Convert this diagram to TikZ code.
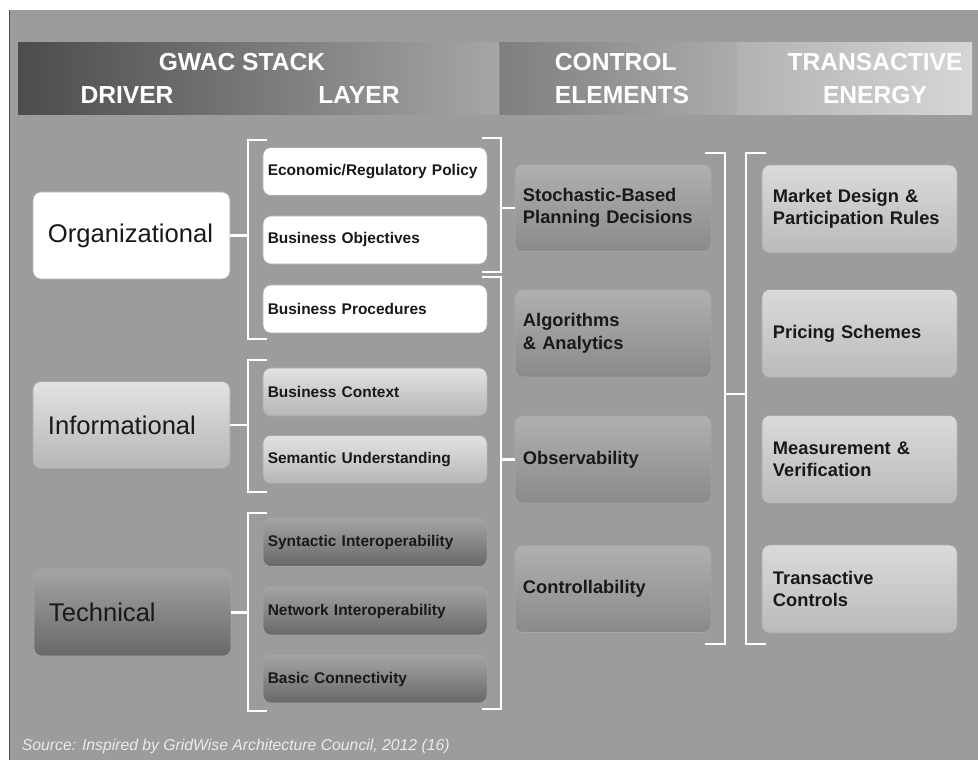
\documentclass[tikz,border=0pt]{standalone}
\usepackage{fontspec}
\setmainfont{Liberation Sans}
\definecolor{panelgray}{HTML}{9C9C9C}
\definecolor{hdrA}{HTML}{4C4C4C}
\definecolor{hdrB}{HTML}{A6A6A6}
\definecolor{hdrC}{HTML}{7E7E7E}
\definecolor{hdrD}{HTML}{ACACAC}
\definecolor{hdrE}{HTML}{B2B2B2}
\definecolor{hdrF}{HTML}{D6D6D6}
\definecolor{infTop}{HTML}{E2E2E2}
\definecolor{infBot}{HTML}{B6B6B6}
\definecolor{tecTop}{HTML}{A4A4A4}
\definecolor{tecBot}{HTML}{686868}
\definecolor{ctlTop}{HTML}{B0B0B0}
\definecolor{ctlBot}{HTML}{8A8A8A}
\definecolor{teTop}{HTML}{DADADA}
\definecolor{teBot}{HTML}{BABABA}
\begin{document}
\begin{tikzpicture}[x=0.025cm, y=-0.025cm,
    box/.style = {rounded corners=0.2cm, draw=black!35, line width=0.4pt, align=left, inner ysep=0pt, text=black!90},
    drvbox/.style = {box, minimum height=2.175cm, text width=4.175cm, inner xsep=0.375cm, font=\fontsize{18.2}{21}\selectfont},
    laybox/.style = {box, minimum height=1.2cm, text width=5.36cm, inner xsep=0.12cm, font=\bfseries\fontsize{11}{13}\selectfont},
    ctlbox/.style = {box, minimum height=2.175cm, text width=4.5cm, inner xsep=0.2cm, font=\bfseries\fontsize{13}{16}\selectfont, top color=ctlTop, bottom color=ctlBot},
    tebox/.style = {box, minimum height=2.2cm, text width=4.325cm, inner xsep=0.275cm, font=\bfseries\fontsize{13}{16}\selectfont, top color=teTop, bottom color=teBot},
    bracket/.style = {white, line width=1.6pt},
    hdr/.style = {white, font=\bfseries\fontsize{17.5}{23.4}\selectfont}]

    % background and header band
    \useasboundingbox (0,0) rectangle (978,760);
    \fill[white] (0,0) rectangle (978,760);
    \fill[panelgray] (9,10) rectangle (978,760);
    \draw[black!70, line width=0.6pt] (9,10) -- (9,760);
    \shade[left color=hdrA, right color=hdrB] (18,43) rectangle (499,115);
    \shade[left color=hdrC, right color=hdrD] (499,43) rectangle (737,115);
    \shade[left color=hdrE, right color=hdrF] (737,43) rectangle (972,115);
    \draw[black!45, line width=0.4pt] (499,43) -- (499,115);
    \draw[black!30, line width=0.4pt] (737,43) -- (737,115);

    \node[hdr] (gwac) at (242,62) {GWAC STACK};
    \node[hdr] (drv) at (127,95) {DRIVER};
    \node[hdr] (lay) at (359,95) {LAYER};
    \node[hdr, align=left, anchor=west] (ctlhd) at (550,78.5) {CONTROL\\ELEMENTS};
    \node[hdr, align=center] (tehd) at (875,78.5) {TRANSACTIVE\\ENERGY};

    % driver column
    \node[drvbox, fill=white] (org) at (131.5,235.5) {Organizational};
    \node[drvbox, top color=infTop, bottom color=infBot] (info) at (131.5,425) {Informational};
    \node[drvbox, top color=tecTop, bottom color=tecBot] (tech) at (132.5,612.5) {Technical};

    % layer column
    \node[laybox, fill=white] (econ) at (375,171.5) {Economic/Regulatory Policy};
    \node[laybox, fill=white] (bobj) at (375,240) {Business Objectives};
    \node[laybox, fill=white] (bproc) at (375,309) {Business Procedures};
    \node[laybox, top color=infTop, bottom color=infBot] (bctx) at (375,392) {Business Context};
    \node[laybox, top color=infTop, bottom color=infBot] (sem) at (375,459.5) {Semantic Understanding};
    \node[laybox, top color=tecTop, bottom color=tecBot] (syn) at (375,542.5) {Syntactic Interoperability};
    \node[laybox, top color=tecTop, bottom color=tecBot] (net) at (375,611) {Network Interoperability};
    \node[laybox, top color=tecTop, bottom color=tecBot] (basic) at (375,679) {Basic Connectivity};

    % control elements
    \node[ctlbox] (stoch) at (613,208) {Stochastic-Based\\Planning Decisions};
    \node[ctlbox] (algo) at (613,333.5) {Algorithms\\\& Analytics};
    \node[ctlbox] (obs) at (613,459.5) {Observability};
    \node[ctlbox] (ctrl) at (613,589) {Controllability};

    % transactive energy
    \node[tebox] (mkt) at (859.5,209) {Market Design \&\\Participation Rules};
    \node[tebox] (price) at (859.5,333.5) {Pricing Schemes};
    \node[tebox] (meas) at (859.5,459.5) {Measurement \&\\Verification};
    \node[tebox] (tctl) at (859.5,589) {Transactive\\Controls};

    % brackets
    \draw[bracket] (267,140) -| (248,339) -- (267,339);
    \draw[bracket] (267,360) -| (248,492) -- (267,492);
    \draw[bracket] (267,513) -| (248,711) -- (267,711);
    \draw[bracket] (482,138) -| (501,272) -- (482,272);
    \draw[bracket] (482,277) -| (501,709) -- (482,709);
    \draw[bracket] (705,153) -| (725,644) -- (705,644);
    \draw[bracket] (766,153) -| (746,644) -- (766,644);

    \coordinate (orgbr) at (248,235.5);
    \coordinate (infobr) at (248,425);
    \coordinate (techbr) at (248,612.5);
    \coordinate (stochbr) at (501,208);
    \coordinate (obsbr) at (501,459.5);
    \coordinate (ctlbr) at (725,394);
    \coordinate (tebr) at (746,394);
    \draw[bracket] (org.east) -- (orgbr);
    \draw[bracket] (info.east) -- (infobr);
    \draw[bracket] (tech.east) -- (techbr);
    \draw[bracket] (stochbr) -- (stoch.west);
    \draw[bracket] (obsbr) -- (obs.west);
    \draw[bracket] (ctlbr) -- (tebr);

    \node[anchor=west, text=black!8, font=\itshape\fontsize{11.2}{13}\selectfont] (src) at (17,746) {Source: Inspired by GridWise Architecture Council, 2012 (16)};
\end{tikzpicture}
\end{document}
